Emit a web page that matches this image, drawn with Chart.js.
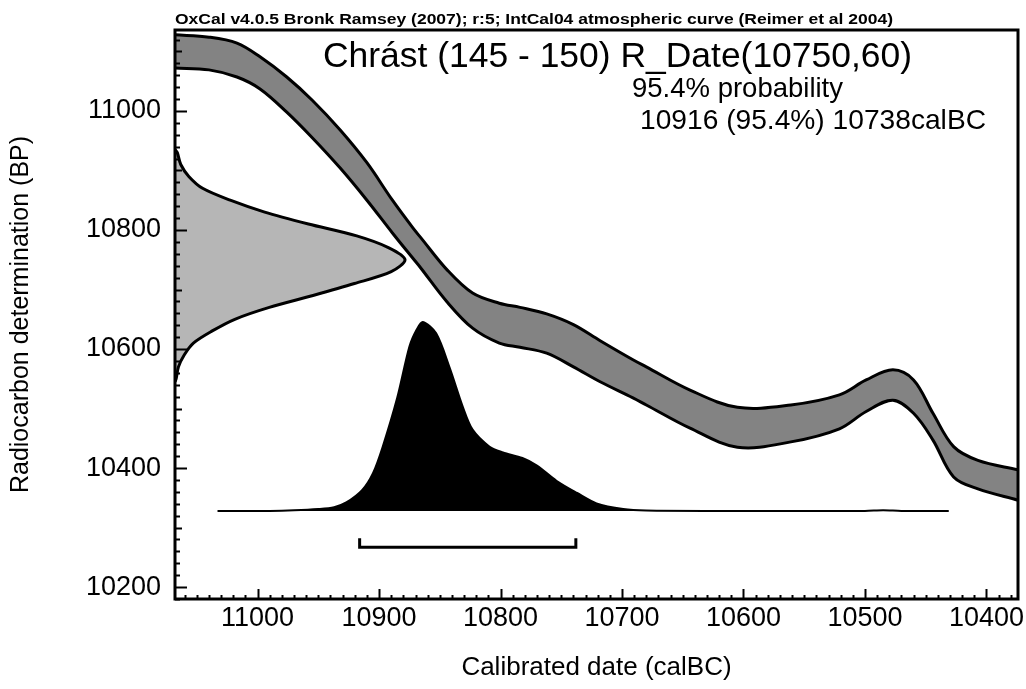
<!DOCTYPE html>
<html>
<head>
<meta charset="utf-8">
<script src="https://cdn.jsdelivr.net/npm/chart.js@4.4.1/dist/chart.umd.min.js"></script>
<style>
  html, body { margin: 0; padding: 0; background: #fff; }
  #wrap { width: 1026px; height: 689px; }
</style>
</head>
<body>
<div id="wrap"><canvas id="myChart" width="1026" height="689"></canvas></div>
<script>
// Calibration curve (IntCal04), upper and lower edge of the band
const curveYears = [11068, 11040, 11017, 10998, 10976, 10955, 10932, 10910, 10889, 10872, 10866, 10844, 10823, 10801, 10784, 10762, 10740, 10718, 10691, 10680, 10644, 10605, 10561, 10521, 10499, 10477, 10460, 10444, 10427, 10407, 10374];
const curveUpper = [11128, 11124, 11114, 11091, 11057, 11018, 10968, 10913, 10850, 10803, 10788, 10733, 10694, 10677, 10670, 10659, 10641, 10614, 10582, 10570, 10531, 10502, 10506, 10523, 10548, 10565, 10548, 10492, 10436, 10413, 10397];
const curveLower = [11072, 11069, 11057, 11037, 10998, 10955, 10904, 10850, 10795, 10752, 10737, 10679, 10635, 10610, 10603, 10593, 10570, 10545, 10518, 10506, 10467, 10435, 10444, 10466, 10495, 10514, 10492, 10447, 10385, 10365, 10346];

// Radiocarbon measurement R_Date(10750,60): relative probability by BP
const dateBP = [10930, 10910, 10890, 10870, 10850, 10830, 10810, 10790, 10770, 10750, 10730, 10710, 10690, 10670, 10650, 10630, 10610, 10590, 10570, 10550];
const dateProb = [0.01, 0.025, 0.06, 0.12, 0.24, 0.39, 0.58, 0.79, 0.93, 1.0, 0.94, 0.78, 0.6, 0.41, 0.26, 0.16, 0.08, 0.04, 0.015, 0.005];

// Calibrated distribution (calBC)
const calYears = [11033, 10990, 10970, 10950, 10937, 10927, 10914, 10905, 10897, 10885, 10875, 10869, 10864, 10853, 10842, 10831, 10823, 10809, 10798, 10782, 10770, 10754, 10737, 10721, 10699, 10680, 10620, 10500, 10485, 10470, 10431];
const calProb = [0, 0, 0.003, 0.01, 0.02, 0.045, 0.11, 0.2, 0.34, 0.6, 0.87, 0.96, 1.0, 0.94, 0.76, 0.55, 0.43, 0.34, 0.31, 0.28, 0.24, 0.16, 0.095, 0.04, 0.01, 0.002, 0, 0, 0.004, 0, 0];

// 95.4% range
const rangeFrom = 10916;
const rangeTo = 10738;

// axis ticks
const xTicks = [11000, 10900, 10800, 10700, 10600, 10500, 10400];
const yTicks = [10200, 10400, 10600, 10800, 11000];

const FONT = '"Liberation Sans", Arial, sans-serif';

const pts = (xs, ys) => xs.map((v, i) => ({ x: v, y: ys[i] }));

// density on the BP axis, closed against the y axis
const dateShape = [{ x: 0, y: dateBP[0] + 5 }]
  .concat(dateBP.map((b, i) => ({ x: dateProb[i], y: b })))
  .concat([{ x: 0, y: dateBP[dateBP.length - 1] - 5 }]);

const bracketLevel = 10267, bracketCap = 10282;

// frame, inward tick marks and the text blocks
const decor = {
  id: 'decor',
  afterDatasetsDraw(chart) {
    const ctx = chart.ctx;
    const a = chart.chartArea;
    const sx = chart.scales.x, sy = chart.scales.y;
    ctx.save();
    ctx.strokeStyle = '#000';
    ctx.lineWidth = 2;
    for (let v = 10380; v <= 11060; v += 10) {
      const px = Math.round(sx.getPixelForValue(v)) + 0.5;
      const len = v % 100 === 0 ? 10 : 4;
      ctx.beginPath();
      ctx.moveTo(px, a.bottom);
      ctx.lineTo(px, a.bottom - len);
      ctx.stroke();
    }
    for (let v = 10180; v <= 11120; v += 20) {
      const py = Math.round(sy.getPixelForValue(v)) + 0.5;
      const len = v % 200 === 0 ? 12 : (v % 100 === 0 ? 7 : 5);
      ctx.beginPath();
      ctx.moveTo(a.left, py);
      ctx.lineTo(a.left + len, py);
      ctx.stroke();
    }
    ctx.lineWidth = 3;
    ctx.strokeRect(a.left, a.top, a.right - a.left, a.bottom - a.top);
    ctx.restore();
  },
  afterDraw(chart) {
    const ctx = chart.ctx;
    const fit = (text, font, x1, x2, y) => {
      ctx.save();
      ctx.font = font;
      ctx.fillStyle = '#000';
      ctx.textBaseline = 'middle';
      ctx.textAlign = 'left';
      const w = ctx.measureText(text).width;
      ctx.translate(x1, y);
      ctx.scale((x2 - x1) / w, 1);
      ctx.fillText(text, 0, 0);
      ctx.restore();
    };
    fit('OxCal v4.0.5 Bronk Ramsey (2007); r:5; IntCal04 atmospheric curve (Reimer et al 2004)',
        'bold 14px ' + FONT, 175, 893, 20);
    fit('Chrást (145 - 150) R_Date(10750,60)', '35px ' + FONT, 323, 912, 57);
    fit('95.4% probability', '28px ' + FONT, 632, 843, 89);
    fit('10916 (95.4%) 10738calBC', '28px ' + FONT, 640, 986, 121);
  }
};

const ctx = document.getElementById('myChart').getContext('2d');
const myChart = new Chart(ctx, {
  type: 'line',
  data: {
    datasets: [
      {
        label: 'curve upper',
        data: pts(curveYears, curveUpper),
        borderColor: '#000',
        borderWidth: 3,
        backgroundColor: '#838383',
        fill: '+1',
        pointRadius: 0,
        tension: 0.35,
        order: 2,
      },
      {
        label: 'curve lower',
        data: pts(curveYears, curveLower),
        borderColor: '#000',
        borderWidth: 3,
        fill: false,
        pointRadius: 0,
        tension: 0.35,
        order: 1,
      },
      {
        label: 'R_Date',
        data: dateShape,
        xAxisID: 'xp',
        borderColor: '#000',
        borderWidth: 3,
        backgroundColor: '#b6b6b6',
        fill: 'shape',
        pointRadius: 0,
        tension: 0.3,
        order: 4,
      },
      {
        label: 'calibrated',
        data: pts(calYears, calProb),
        yAxisID: 'yp',
        borderColor: '#000',
        borderWidth: 2,
        backgroundColor: '#000',
        fill: 'origin',
        pointRadius: 0,
        tension: 0.3,
        order: 3,
      },
      {
        label: 'range',
        data: [
          { x: rangeFrom, y: bracketCap }, { x: rangeFrom, y: bracketLevel },
          { x: rangeTo, y: bracketLevel }, { x: rangeTo, y: bracketCap }
        ],
        borderColor: '#000',
        borderWidth: 3,
        fill: false,
        pointRadius: 0,
        tension: 0,
        order: 0,
      },
    ],
  },
  options: {
    responsive: false,
    animation: false,
    devicePixelRatio: 1,
    layout: { padding: { top: 30, right: 8, left: 0, bottom: 0 } },
    plugins: { legend: { display: false }, tooltip: { enabled: false }, title: { display: false } },
    scales: {
      x: {
        type: 'linear',
        position: 'bottom',
        reverse: true,
        min: 10374,
        max: 11068,
        grid: { display: false },
        border: { display: false },
        afterBuildTicks: (s) => { s.ticks = xTicks.map(v => ({ value: v })); },
        afterFit: (s) => { s.height = 90; },
        ticks: {
          color: '#000',
          padding: -5,
          maxRotation: 0,
          font: { family: FONT, size: 27 },
          callback: (v) => String(v),
        },
        title: {
          display: true,
          text: 'Calibrated date (calBC)',
          color: '#000',
          font: { family: FONT, size: 26 },
          padding: { top: 0, bottom: 6 },
        },
      },
      y: {
        type: 'linear',
        position: 'left',
        min: 10180,
        max: 11136,
        grid: { display: false },
        border: { display: false },
        afterBuildTicks: (s) => { s.ticks = yTicks.map(v => ({ value: v })); },
        afterFit: (s) => { s.width = 175; },
        ticks: {
          color: '#000',
          padding: 6,
          font: { family: FONT, size: 27 },
          callback: (v) => String(v),
        },
        title: {
          display: true,
          text: 'Radiocarbon determination (BP)',
          color: '#000',
          font: { family: FONT, size: 25 },
          padding: { top: 6, bottom: 0 },
        },
      },
      xp: { type: 'linear', display: false, min: 0, max: 3.665 },
      yp: { type: 'linear', display: false, min: -0.466, max: 2.545 },
    },
  },
  plugins: [decor],
});
</script>
</body>
</html>
